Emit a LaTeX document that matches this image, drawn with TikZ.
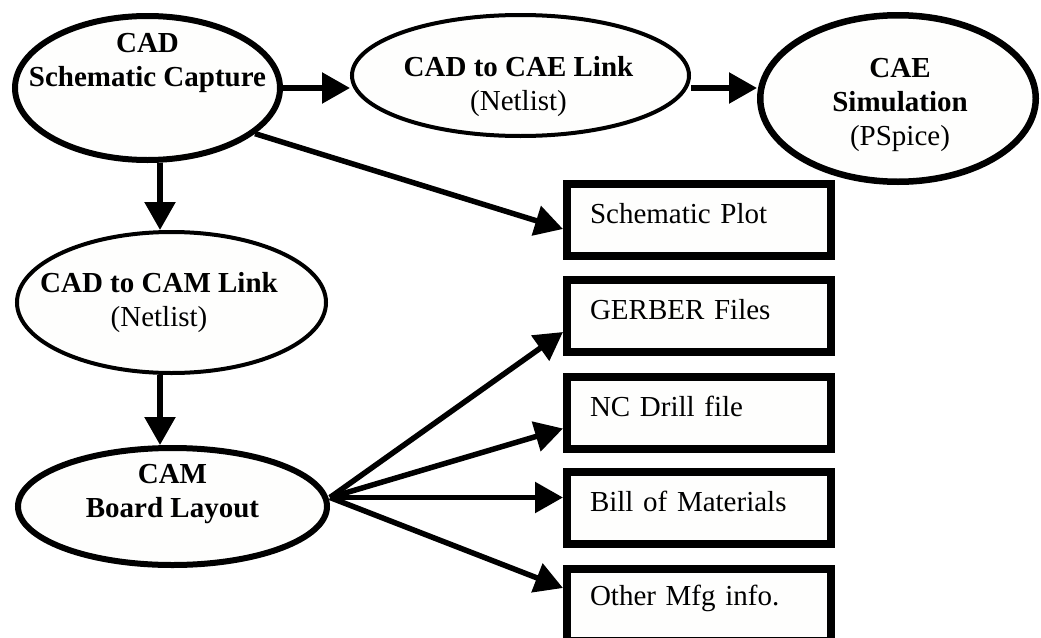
\documentclass[tikz,border=0pt]{standalone}
\usepackage{fontspec}
\setmainfont{Liberation Serif}
\usetikzlibrary{arrows.meta,shapes.geometric,calc}

\definecolor{paper}{RGB}{254,254,253}

\tikzset{
	oval/.style={ellipse, draw, fill=paper, inner sep=0pt},
	ovaltext/.style={align=center, inner sep=0pt, font=\fontsize{29}{34}\selectfont},
	outbox/.style={draw, fill=paper, line width=8pt, minimum width=264pt, minimum height=72pt,
		text width=218pt, align=left, text height=20pt, text depth=13pt,
		font=\fontsize{29}{34}\selectfont},
	flow/.style={line width=5.5pt, -{Triangle[length=28pt,width=30pt]}}
}

\newcommand{\mfgbox}[4][]{
	\node[outbox,#1] (#2) at (\bxx, #3) {#4};
}

\begin{document}
\begin{tikzpicture}[x=1pt, y=-1pt]
\clip (0,0) rectangle (1041,637);
\fill[white] (0,0) rectangle (1041,637);

\pgfmathsetmacro{\bxx}{699}
\pgfmathsetmacro{\bxAy}{220}
\pgfmathsetmacro{\bxBy}{316}
\pgfmathsetmacro{\bxCy}{412.5}
\pgfmathsetmacro{\bxDy}{507.5}
\pgfmathsetmacro{\bxEy}{605}

% ellipses
\node[oval, line width=6pt, minimum width=265pt, minimum height=144pt] (cap) at (147.5,88) {};
\node[oval, line width=4pt, minimum width=337pt, minimum height=121pt] (cadcae) at (520.5,75.5) {};
\node[oval, line width=6.5pt, minimum width=275.5pt, minimum height=166.5pt] (sim) at (898,98.5) {};
\node[oval, line width=4pt, minimum width=309pt, minimum height=141pt] (camlink) at (171.5,302.5) {};
\node[oval, line width=6pt, minimum width=309pt, minimum height=117pt] (layout) at (172.5,506.5) {};

\node[ovaltext] (capT) at ([yshift=25pt]cap.center) {\textbf{CAD}\\\textbf{Schematic Capture}};
\node[ovaltext] (cadcaeT) at ([xshift=-2pt,yshift=-11.5pt]cadcae.center) {\textbf{CAD to CAE Link}\\(Netlist)};
\node[ovaltext] (simT) at ([xshift=2pt,yshift=-6.5pt]sim.center) {\textbf{CAE}\\\textbf{Simulation}\\(PSpice)};
\node[ovaltext] (camlinkT) at ([xshift=-12.5pt]camlink.center) {\textbf{CAD to CAM Link}\\(Netlist)};
\node[ovaltext] (layoutT) at ([yshift=12.5pt]layout.center) {\textbf{CAM}\\\textbf{Board Layout}};

% outputs
\mfgbox{plot}{\bxAy}{Schematic Plot}
\mfgbox{gerber}{\bxBy}{GERBER Files}
\mfgbox{drill}{\bxCy}{NC Drill file}
\mfgbox{bom}{\bxDy}{Bill of Materials}
\mfgbox[text depth=20pt]{other}{\bxEy}{Other Mfg info.}

\coordinate (spine) at (160,0);
\coordinate (fan) at ([yshift=9pt]layout.east);

\draw[flow] (cap.east) -- (cap.east -| cadcae.west);
\draw[flow] (cadcae.east |- cap.east) -- (cap.east -| sim.west);
\draw[flow] (cap.south -| spine) -- (camlink.north -| spine);
\draw[flow] (camlink.south -| spine) -- (layout.north -| spine);
\draw[flow] (cap.-23) -- ([yshift=-9pt]plot.west);

\draw[flow] (fan) -- ([yshift=-16pt]gerber.west);
\draw[flow] (fan) -- ([yshift=-16pt]drill.west);
\draw[flow] (fan) -- ([yshift=10pt]bom.west);
\draw[flow] (fan) -- ([yshift=17pt]other.west);
\end{tikzpicture}
\end{document}
